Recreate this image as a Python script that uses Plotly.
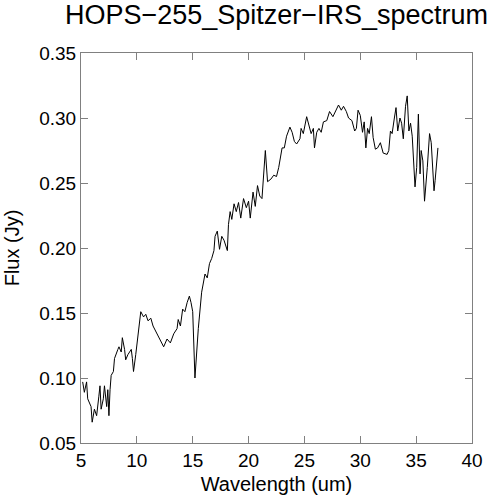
import plotly.graph_objects as go

wavelength = [5.15, 5.3, 5.5, 5.6, 5.9, 6.0, 6.2, 6.4, 6.6, 6.7, 6.8, 7.0, 7.1, 7.3, 7.4, 7.5, 7.6, 7.7,
              7.9, 8.0, 8.3, 8.4, 8.6, 8.7, 8.9, 9.0, 9.2, 9.5, 9.6, 9.7, 9.9, 10.1, 10.35, 10.6, 10.8,
              11.0, 11.25, 11.45, 11.75, 12.05, 12.4, 12.7, 13.0, 13.3, 13.6, 13.7, 13.9, 14.1, 14.3,
              14.5, 14.7, 14.85, 15.0, 15.2, 15.5, 15.8, 16.1, 16.3, 16.5, 16.7, 16.9, 17.0, 17.2,
              17.4, 17.6, 17.8, 18.1, 18.2, 18.35, 18.5, 18.7, 18.9, 19.1, 19.3, 19.55, 19.8, 20.0,
              20.15, 20.4, 20.6, 20.8, 21.0, 21.2, 21.5, 21.7, 22.0, 22.25, 22.5, 22.7, 23.0, 23.2,
              23.4, 23.7, 23.9, 24.1, 24.3, 24.6, 24.7, 24.9, 25.2, 25.4, 25.6, 25.8, 25.9, 26.1,
              26.3, 26.5, 26.7, 27.0, 27.25, 27.55, 27.85, 28.05, 28.3, 28.5, 28.75, 28.95, 29.25,
              29.5, 29.65, 29.8, 30.0, 30.2, 30.35, 30.5, 30.65, 30.8, 31.0, 31.15, 31.35, 31.55,
              31.8, 32.05, 32.4, 32.55, 32.7, 32.85, 33.05, 33.2, 33.35, 33.55, 33.7, 33.85, 34.05,
              34.2, 34.35, 34.5, 34.65, 34.9, 35.05, 35.2, 35.35, 35.45, 35.6, 35.75, 36.0, 36.2,
              36.35, 36.6, 36.7, 36.95]

flux = [0.097, 0.089, 0.097, 0.084, 0.078, 0.066, 0.076, 0.071, 0.086, 0.094, 0.076, 0.084, 0.094,
        0.078, 0.091, 0.071, 0.091, 0.102, 0.105, 0.115, 0.122, 0.124, 0.120, 0.131, 0.122, 0.114,
        0.118, 0.122, 0.115, 0.105, 0.118, 0.132, 0.151, 0.147, 0.149, 0.144, 0.146, 0.140, 0.135,
        0.131, 0.124, 0.130, 0.127, 0.134, 0.138, 0.145, 0.140, 0.153, 0.151, 0.158, 0.163, 0.158,
        0.151, 0.100, 0.138, 0.166, 0.180, 0.177, 0.188, 0.192, 0.198, 0.209, 0.213, 0.199, 0.209,
        0.206, 0.198, 0.218, 0.228, 0.222, 0.234, 0.228, 0.235, 0.223, 0.238, 0.231, 0.236, 0.223,
        0.243, 0.232, 0.248, 0.240, 0.238, 0.275, 0.251, 0.253, 0.256, 0.255, 0.262, 0.277, 0.277,
        0.286, 0.293, 0.289, 0.282, 0.280, 0.284, 0.292, 0.288, 0.301, 0.294, 0.288, 0.292, 0.277,
        0.289, 0.292, 0.289, 0.297, 0.298, 0.305, 0.301, 0.306, 0.310, 0.306, 0.309, 0.305, 0.300,
        0.298, 0.290, 0.292, 0.306, 0.302, 0.289, 0.297, 0.277, 0.292, 0.288, 0.301, 0.285, 0.276,
        0.277, 0.281, 0.273, 0.272, 0.275, 0.290, 0.288, 0.300, 0.308, 0.290, 0.300, 0.296, 0.284,
        0.309, 0.317, 0.290, 0.296, 0.286, 0.247, 0.262, 0.303, 0.257, 0.275, 0.267, 0.236, 0.262,
        0.288, 0.281, 0.244, 0.252, 0.277]

title_text = "HOPS\u2212255_Spitzer\u2212IRS_spectrum"
x_ticks = [5, 10, 15, 20, 25, 30, 35, 40]
y_ticks = [0.05, 0.10, 0.15, 0.20, 0.25, 0.30, 0.35]

FONT = "Liberation Sans"

fig = go.Figure()
fig.add_trace(go.Scatter(x=wavelength, y=flux, mode="lines",
                         line=dict(color="black", width=1), showlegend=False))

axis_common = dict(showgrid=False, zeroline=False, showline=True, linecolor="#808080",
                   linewidth=1, mirror="allticks", ticks="inside", ticklen=7,
                   tickcolor="#808080", tickwidth=1, automargin=False,
                   tickfont=dict(family=FONT, size=19, color="black"))

fig.update_xaxes(range=[5, 40], tickvals=x_ticks, ticktext=[str(v) for v in x_ticks],
                 title=dict(text="Wavelength (um)", font=dict(family=FONT, size=20, color="black"),
                            standoff=7),
                 **axis_common)
fig.update_yaxes(range=[0.05, 0.35], tickvals=y_ticks, ticktext=["%.2f" % v for v in y_ticks],
                 title=dict(text="Flux (Jy)", font=dict(family=FONT, size=20, color="black"),
                            standoff=14),
                 **axis_common)

fig.update_layout(
    width=492, height=500,
    margin=dict(l=81, r=20, t=53, b=57, autoexpand=False),
    paper_bgcolor="white", plot_bgcolor="white",
    title=dict(text=title_text, x=0.5, xref="paper", y=0.97, yref="container",
               xanchor="center", yanchor="middle",
               font=dict(family=FONT, size=27, color="black")),
)

fig.write_html("out.html", config={"displayModeBar": False},
               post_script="document.body.style.margin='0';document.body.style.overflow='hidden';")
